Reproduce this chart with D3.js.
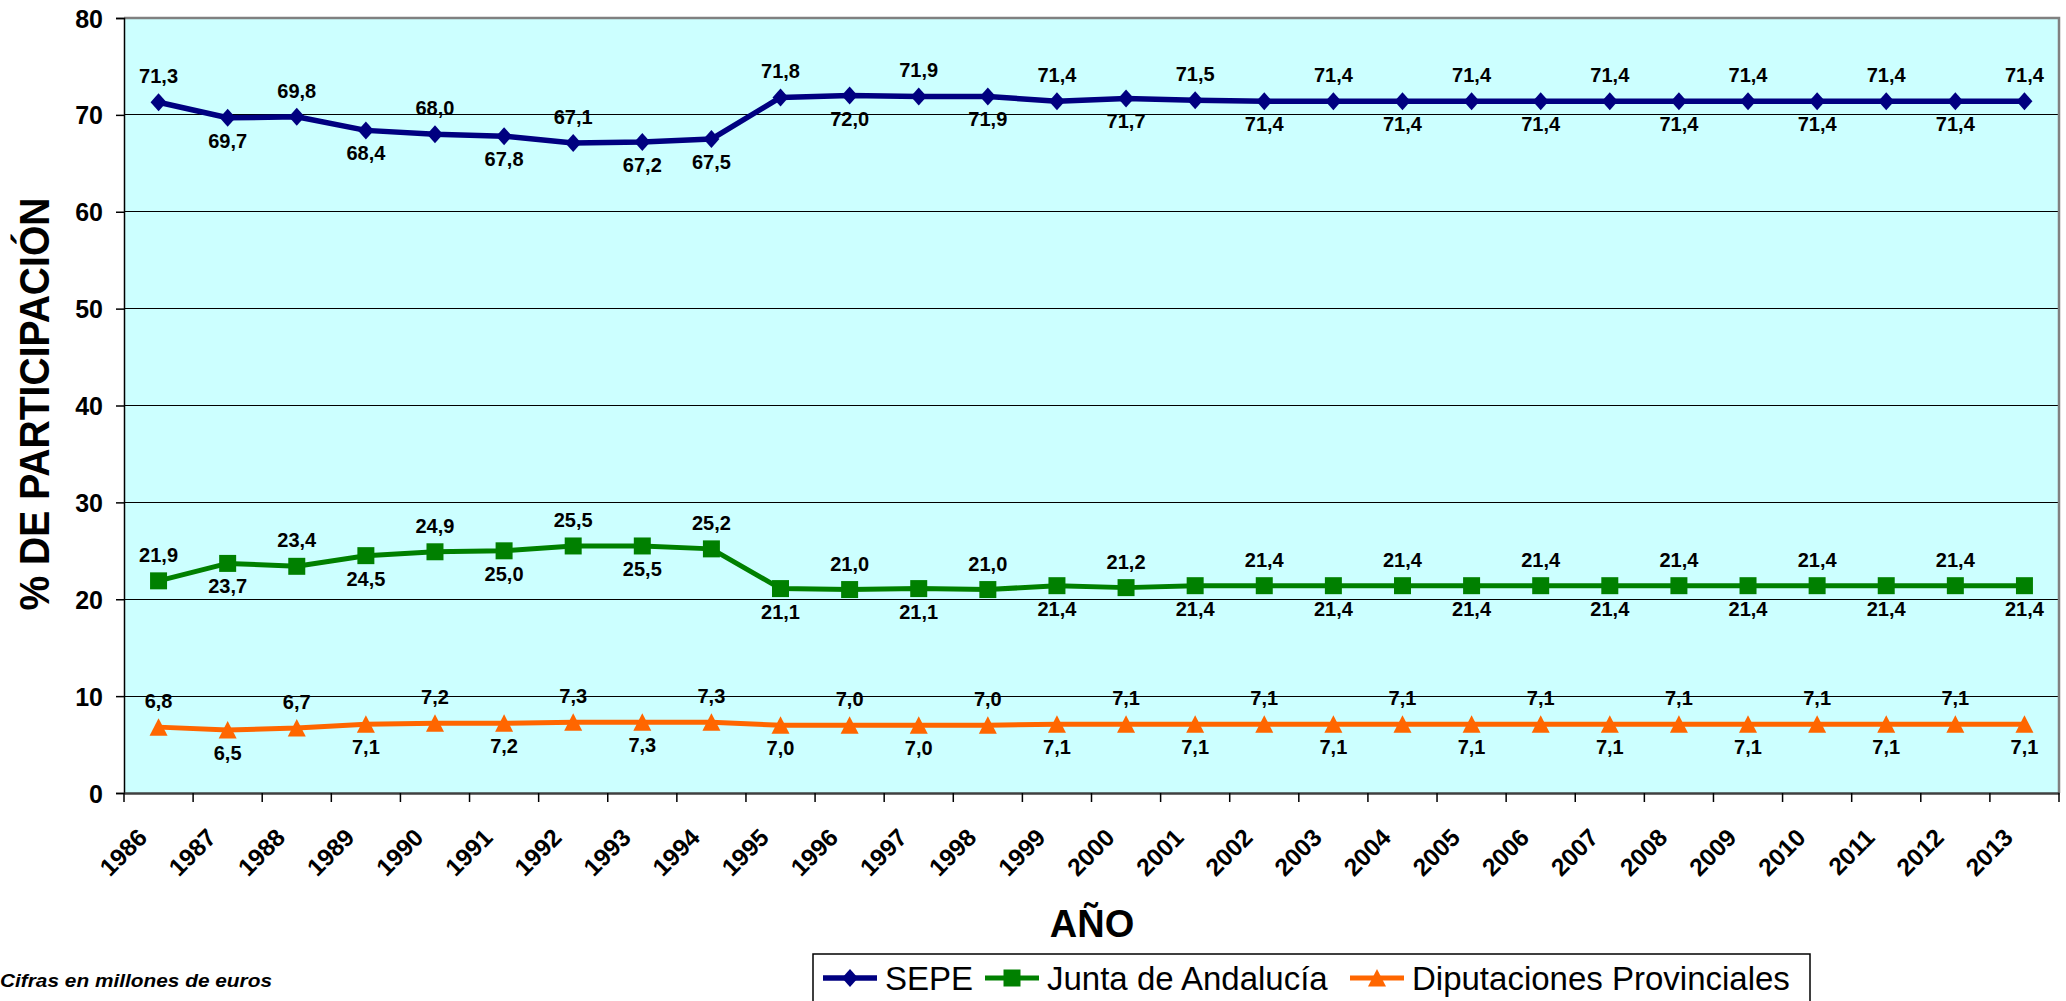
<!DOCTYPE html>
<html>
<head>
<meta charset="utf-8">
<script src="https://cdn.jsdelivr.net/npm/d3@7"></script>
<style>
  html, body { margin: 0; padding: 0; background: #ffffff; overflow: hidden; }
  svg text { font-family: Arial, "Liberation Sans", sans-serif; }
</style>
</head>
<body>
<svg id="chart" width="2066" height="1001"></svg>
<script>
// ---------------- DATA ----------------
const years = ["1986","1987","1988","1989","1990","1991","1992","1993","1994","1995","1996","1997","1998","1999","2000","2001","2002","2003","2004","2005","2006","2007","2008","2009","2010","2011","2012","2013"];
const sepe = [71.3,69.7,69.8,68.4,68.0,67.8,67.1,67.2,67.5,71.8,72.0,71.9,71.9,71.4,71.7,71.5,71.4,71.4,71.4,71.4,71.4,71.4,71.4,71.4,71.4,71.4,71.4,71.4];
const junta = [21.9,23.7,23.4,24.5,24.9,25.0,25.5,25.5,25.2,21.1,21.0,21.1,21.0,21.4,21.2,21.4,21.4,21.4,21.4,21.4,21.4,21.4,21.4,21.4,21.4,21.4,21.4,21.4];
const diput = [6.8,6.5,6.7,7.1,7.2,7.2,7.3,7.3,7.3,7.0,7.0,7.0,7.0,7.1,7.1,7.1,7.1,7.1,7.1,7.1,7.1,7.1,7.1,7.1,7.1,7.1,7.1,7.1];
const seriesNames = ["SEPE", "Junta de Andalucía", "Diputaciones Provinciales"];
const yTicks = [0,10,20,30,40,50,60,70,80];
// label side (a = above point, b = below point)
const sepeSide  = ["a","b","a","b","a","b","a","b","b","a","b","a","b","a","b","a","b","a","b","a","b","a","b","a","b","a","b","a"];
const juntaSide = ["a","b","a","b","a","b","a","b","a","b","a","b","a","b","a","b","a","b","a","b","a","b","a","b","a","b","a","b"];
const diputSide = ["a","b","a","b","a","b","a","b","a","b","a","b","a","b","a","b","a","b","a","b","a","b","a","b","a","b","a","b"];
const yTitle = "% DE PARTICIPACIÓN";
const xTitle = "AÑO";
const note = "Cifras en millones de euros";

// ---------------- LAYOUT ----------------
const svg = d3.select("#chart");
const L = 124, R = 2059, T = 18, B = 793;
const x = d3.scaleBand().domain(years).range([L, R]).padding(0);
const y = d3.scaleLinear().domain([0, 80]).range([B, T]);
const cx = d => x(d) + x.bandwidth() / 2;

// plot background
svg.append("rect").attr("x", L).attr("y", T).attr("width", R - L).attr("height", B - T)
  .attr("fill", "#CCFFFF");

// gridlines
svg.append("g").selectAll("line").data(yTicks.filter(v => v > 0 && v < 80)).join("line")
  .attr("x1", L).attr("x2", R).attr("y1", d => y(d)).attr("y2", d => y(d))
  .attr("stroke", "#000").attr("stroke-width", 1.2).attr("shape-rendering", "crispEdges");

// plot border top/right (gray)
svg.append("path").attr("d", `M${L},${T}H${R}V${B}`).attr("fill", "none")
  .attr("stroke", "#808080").attr("stroke-width", 2.5);

// Y axis
const yAxis = svg.append("g").attr("transform", `translate(${L},0)`)
  .call(d3.axisLeft(y).tickValues(yTicks).tickSize(8).tickPadding(13).tickFormat(d3.format("d")));
yAxis.select(".domain").attr("stroke", "#000").attr("stroke-width", 1.5);
yAxis.selectAll(".tick line").attr("stroke", "#000").attr("stroke-width", 1.5);
yAxis.selectAll(".tick text").attr("font-size", 25).attr("font-weight", "bold").attr("fill", "#000")
  .attr("dy", "0.36em");

// X axis
const xAxis = svg.append("g").attr("transform", `translate(0,${B})`)
  .call(d3.axisBottom(x).tickSize(0).tickFormat(""));
xAxis.select(".domain").attr("stroke", "#404040").attr("stroke-width", 2.5);
// category boundary ticks
const bounds = years.map(d => x(d)).concat([R]);
svg.append("g").selectAll("line").data(bounds).join("line")
  .attr("x1", d => d).attr("x2", d => d).attr("y1", B).attr("y2", B + 9)
  .attr("stroke", "#000").attr("stroke-width", 1.5);
// rotated year labels
svg.append("g").selectAll("text").data(years).join("text")
  .attr("transform", d => `translate(${cx(d) - 10},${B + 46}) rotate(-45)`)
  .attr("text-anchor", "end").attr("font-size", 24.5).attr("font-weight", "bold").attr("fill", "#000")
  .text(d => d);

// axis titles
svg.append("text").attr("transform", `translate(49,404) rotate(-90) scale(0.93,1)`)
  .attr("text-anchor", "middle").attr("font-size", 42).attr("font-weight", "bold").text(yTitle);
svg.append("text").attr("x", 1092).attr("y", 937).attr("text-anchor", "middle")
  .attr("font-size", 38).attr("font-weight", "bold").text(xTitle);

// note
svg.append("text").attr("x", 0).attr("y", 987).attr("font-size", 19).attr("font-weight", "bold")
  .attr("font-style", "italic").attr("textLength", 272).attr("lengthAdjust", "spacingAndGlyphs").text(note);

// ---------------- MARKERS ----------------
const diamond = (px, py) => `M${px},${py - 9}L${px + 8},${py}L${px},${py + 9}L${px - 8},${py}Z`;
const square = (px, py) => `M${px - 8.5},${py - 8.5}h17v17h-17Z`;
const triangle = (px, py) => `M${px},${py - 9}L${px + 9},${py + 8.5}L${px - 9},${py + 8.5}Z`;

const series = [
  { name: seriesNames[0], values: sepe,  side: sepeSide,  color: "#000080", width: 5.5, marker: diamond },
  { name: seriesNames[1], values: junta, side: juntaSide, color: "#008000", width: 5,   marker: square },
  { name: seriesNames[2], values: diput, side: diputSide, color: "#FF6600", width: 5,   marker: triangle }
];

const line = d3.line().x(d => cx(d.year)).y(d => y(d.v));
const fmt = v => v.toFixed(1).replace(".", ",");

series.forEach(s => {
  const pts = years.map((yr, i) => ({ year: yr, v: s.values[i], side: s.side[i] }));
  const g = svg.append("g");
  g.append("path").datum(pts).attr("d", line).attr("fill", "none")
    .attr("stroke", s.color).attr("stroke-width", s.width).attr("stroke-linejoin", "round");
  g.selectAll("path.m").data(pts).join("path").attr("class", "m")
    .attr("d", d => s.marker(cx(d.year), y(d.v))).attr("fill", s.color);
  g.selectAll("text").data(pts).join("text")
    .attr("x", d => cx(d.year))
    .attr("y", d => y(d.v) + (d.side === "a" ? -19 : 30))
    .attr("text-anchor", "middle").attr("font-size", 20).attr("font-weight", "bold").attr("fill", "#000")
    .text(d => fmt(d.v));
});

// ---------------- LEGEND ----------------
const lg = svg.append("g");
lg.append("rect").attr("x", 813).attr("y", 954).attr("width", 997).attr("height", 60)
  .attr("fill", "#fff").attr("stroke", "#000").attr("stroke-width", 1.5);
const legendX = [823, 985, 1350];
series.forEach((s, i) => {
  const lx = legendX[i], ly = 978;
  lg.append("line").attr("x1", lx).attr("x2", lx + 54).attr("y1", ly).attr("y2", ly)
    .attr("stroke", s.color).attr("stroke-width", s.width);
  lg.append("path").attr("d", s.marker(lx + 27, ly)).attr("fill", s.color);
  lg.append("text").attr("x", lx + 62).attr("y", 990).attr("font-size", 33).attr("fill", "#000").text(s.name);
});
</script>
</body>
</html>
